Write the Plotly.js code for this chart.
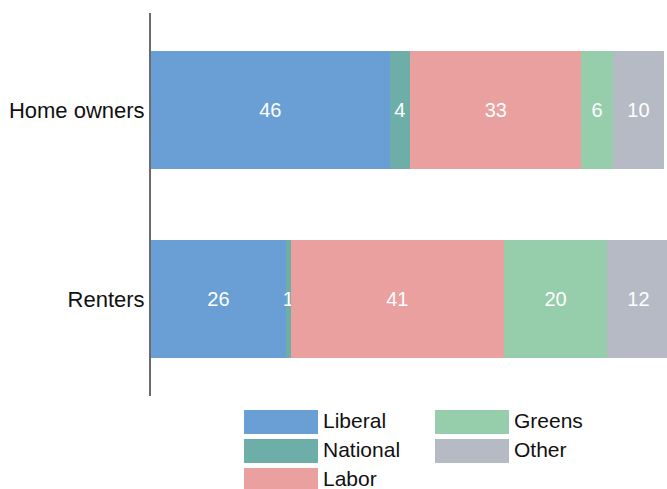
<!DOCTYPE html>
<html>
<head>
<meta charset="utf-8">
<script src="https://cdn.plot.ly/plotly-3.0.1.min.js"></script>
<style>html,body{margin:0;padding:0;background:#fff;}#chart{width:667px;height:489px;}</style>
</head>
<body>
<div id="chart"></div>
<script>
const categories = ["Home owners", "Renters"];
const seriesNames = ["Liberal", "National", "Labor", "Greens", "Other"];
const liberal  = [46, 26];
const national = [4, 1];
const labor    = [33, 41];
const greens   = [6, 20];
const other    = [10, 12];
const seriesValues = [liberal, national, labor, greens, other];
const seriesColors = ["#6a9fd5", "#6eaea9", "#e9a09f", "#96cdaa", "#b6bac4"];

const W = 667, H = 489;
const M = {l: 151, r: 0, t: 13, b: 93};
const pw = W - M.l - M.r, ph = H - M.t - M.b;
const px2x = p => (p - M.l) / pw;
const py2y = p => (H - M.b - p) / ph;

const traces = seriesNames.map((name, i) => ({
  type: 'bar',
  orientation: 'h',
  name: name,
  y: categories,
  x: seriesValues[i],
  text: seriesValues[i].map(String),
  textposition: 'inside',
  insidetextanchor: 'middle',
  constraintext: 'none',
  textfont: {family: 'Liberation Sans, Arial, sans-serif', size: 20, color: '#ffffff'},
  marker: {color: seriesColors[i], line: {width: 0}},
  hoverinfo: 'none',
  showlegend: false
}));

// Legend: two columns (Liberal, National, Labor | Greens, Other)
const shapes = [], annotations = [];
const colX = [244, 435];
const rowY = [410, 439, 468];
const perCol = [3, 2];
let k = 0;
for (let c = 0; c < 2; c++) {
  for (let r = 0; r < perCol[c]; r++, k++) {
    shapes.push({
      type: 'rect', xref: 'paper', yref: 'paper',
      x0: px2x(colX[c]), x1: px2x(colX[c] + 74),
      y0: py2y(rowY[r]), y1: py2y(rowY[r] + 24),
      fillcolor: seriesColors[k], line: {width: 0}
    });
    annotations.push({
      xref: 'paper', yref: 'paper',
      x: px2x(colX[c] + 78), y: py2y(rowY[r] + 10.5),
      xanchor: 'left', yanchor: 'middle',
      text: seriesNames[k], showarrow: false, borderpad: 0,
      font: {family: 'Liberation Sans, Arial, sans-serif', size: 21, color: '#111111'}
    });
  }
}

const layout = {
  width: W, height: H,
  margin: M,
  paper_bgcolor: '#ffffff', plot_bgcolor: '#ffffff',
  barmode: 'stack',
  bargap: 0.374,
  showlegend: false,
  font: {family: 'Liberation Sans, Arial, sans-serif', size: 21, color: '#111111'},
  uniformtext: {mode: 'show', minsize: 20},
  xaxis: {range: [0, 99.5], visible: false, fixedrange: true},
  yaxis: {
    type: 'category',
    categoryorder: 'array', categoryarray: categories,
    range: [1.515, -0.515],
    showline: true, linecolor: '#6b6b6b', linewidth: 2,
    showgrid: false, zeroline: false,
    ticks: '', ticklabelstandoff: 0,
    tickfont: {family: 'Liberation Sans, Arial, sans-serif', size: 22, color: '#111111'}
  },
  shapes: shapes,
  annotations: annotations
};

Plotly.newPlot('chart', traces, layout, {displayModeBar: false, staticPlot: true});
</script>
</body>
</html>
